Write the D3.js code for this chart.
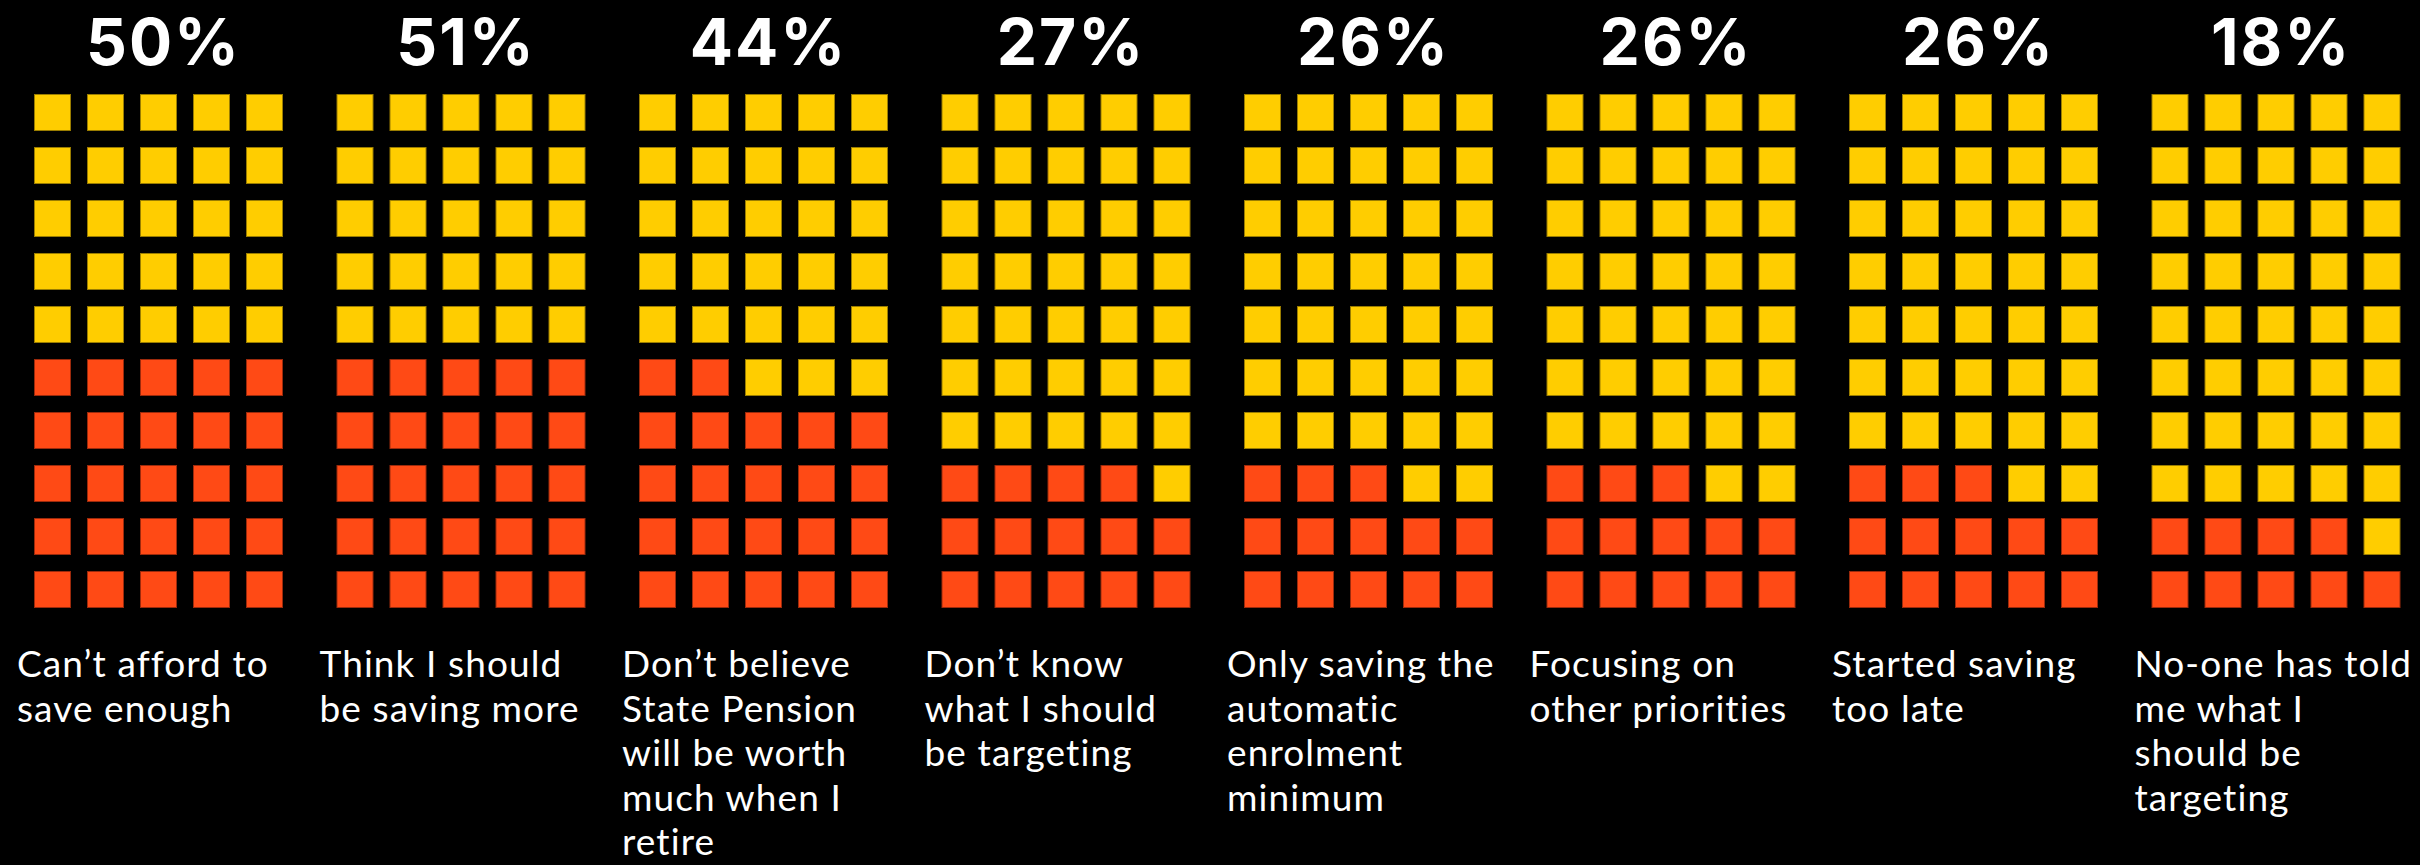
<!DOCTYPE html>
<html>
<head>
<meta charset="utf-8">
<script src="https://cdn.jsdelivr.net/npm/d3@7"></script>
<style>
  html, body { margin: 0; padding: 0; background: #000; }
  svg { display: block; }
</style>
</head>
<body>
<svg id="chart" width="2420" height="865"></svg>
<script>
// ---- data ----
const categories = [
  "Can’t afford to save enough",
  "Think I should be saving more",
  "Don’t believe State Pension will be worth much when I retire",
  "Don’t know what I should be targeting",
  "Only saving the automatic enrolment minimum",
  "Focusing on other priorities",
  "Started saving too late",
  "No-one has told me what I should be targeting"
];
const labelLines = [
  ["Can’t afford to", "save enough"],
  ["Think I should", "be saving more"],
  ["Don’t believe", "State Pension", "will be worth", "much when I", "retire"],
  ["Don’t know", "what I should", "be targeting"],
  ["Only saving the", "automatic", "enrolment", "minimum"],
  ["Focusing on", "other priorities"],
  ["Started saving", "too late"],
  ["No-one has told", "me what I", "should be", "targeting"]
];
const percentValues = [50, 51, 44, 27, 26, 26, 26, 18];
// highlighted (red) squares out of 50, as drawn
const filledSquares = [25, 25, 22, 14, 13, 13, 13, 9];
const nCols = 5, nRows = 10;

// ---- layout ----
const W = 2420, H = 865;
const svg = d3.select("#chart");
svg.append("rect").attr("width", W).attr("height", H).attr("fill", "#000");

const xBand = d3.scaleBand().domain(d3.range(categories.length)).range([0, W]);
const gridLeft = 34, gridTop = 94, cell = 37, pitch = 53;
const xCell = d3.scaleLinear().domain([0, 1]).range([0, pitch]);
const yCell = d3.scaleLinear().domain([0, 1]).range([gridTop, gridTop + pitch]);

const yellow = "#FFCD00", red = "#FF4A15";
const yellowStroke = "#9a7d00", redStroke = "#9c2a0c";

const g = svg.selectAll("g.panel")
  .data(categories.map((c, i) => ({
    name: c, lines: labelLines[i], pct: percentValues[i], filled: filledSquares[i], i
  })))
  .join("g")
  .attr("class", "panel")
  .attr("transform", d => `translate(${xBand(d.i)},0)`);

// squares: fill from bottom row, left to right
g.each(function(d) {
  const cells = d3.range(nCols * nRows).map(k => {
    const rowFromBottom = Math.floor(k / nCols);
    const col = k % nCols;
    return { row: nRows - 1 - rowFromBottom, col, hi: k < d.filled };
  });
  d3.select(this).selectAll("rect.cell")
    .data(cells)
    .join("rect")
    .attr("class", "cell")
    .attr("x", c => gridLeft + xCell(c.col) + 0.5)
    .attr("y", c => yCell(c.row) + 0.5)
    .attr("width", cell - 1)
    .attr("height", cell - 1)
    .attr("fill", c => c.hi ? red : yellow)
    .attr("stroke", c => c.hi ? redStroke : yellowStroke)
    .attr("stroke-width", 1);
});

// percentage headings
g.append("text")
  .attr("x", gridLeft + xCell(nCols - 1) / 2 + cell / 2 + 5)
  .attr("y", 65)
  .attr("text-anchor", "middle")
  .attr("fill", "#fff")
  .attr("font-family", "Inter, sans-serif")
  .attr("font-weight", 700)
  .attr("font-size", 64)
  .attr("letter-spacing", 2)
  .text(d => d.pct + "%");

// labels: one text per line
g.each(function(d) {
  d3.select(this).selectAll("text.lbl")
    .data(d.lines)
    .join("text")
    .attr("class", "lbl")
    .attr("x", 17)
    .attr("y", (l, j) => 677 + j * 44.5)
    .attr("fill", "#fff")
    .attr("font-family", "Lato, sans-serif")
    .attr("font-weight", 400)
    .attr("font-size", 37)
    .attr("letter-spacing", 1.1)
    .text(l => l);
});
</script>
</body>
</html>
